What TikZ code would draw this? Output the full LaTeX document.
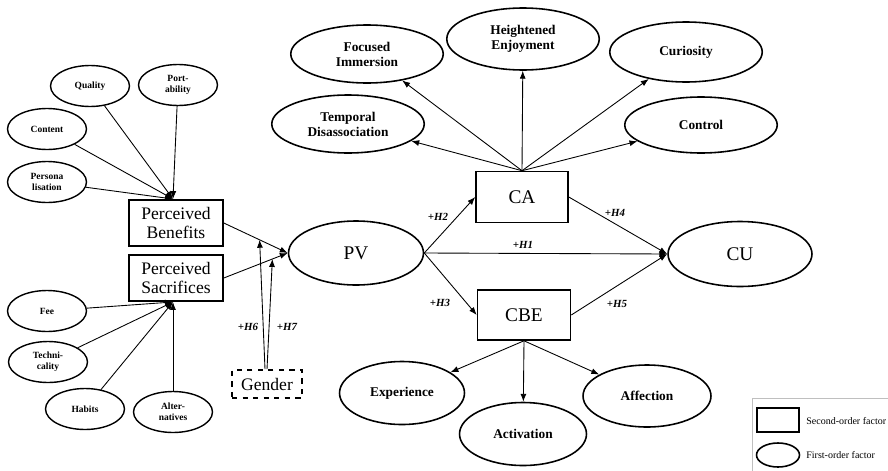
\documentclass[tikz,border=0pt]{standalone}
\usepackage{fontspec}
\setmainfont{Liberation Serif}
\usepackage{tikz}
\usetikzlibrary{arrows.meta,shapes.geometric,calc}

\begin{document}
\begin{tikzpicture}[
  x=0.02cm,y=-0.02cm,
  every node/.style={inner sep=0pt,align=center},
  fac/.style={draw,line width=0.9pt,minimum width=1.88cm,minimum height=0.91cm,font=\fontsize{10}{11}\selectfont},
  big/.style={draw,ellipse,line width=0.9pt,minimum width=2.7cm,minimum height=1.28cm,font=\fontsize{11}{12}\selectfont},
  top/.style={draw,ellipse,line width=0.9pt,minimum width=3.05cm,minimum height=1.16cm,
              font=\fontsize{7.6}{8.6}\selectfont\bfseries},
  sml/.style={draw,ellipse,line width=0.8pt,minimum width=1.58cm,minimum height=0.82cm,
              font=\fontsize{5.4}{6.2}\selectfont\bfseries},
  hyp/.style={font=\fontsize{6.2}{7}\selectfont\bfseries\itshape},
  leg/.style={font=\fontsize{5.7}{7}\selectfont},
  arr/.style={-{Latex[length=4.5pt,width=3.4pt]},line width=0.5pt}]
\useasboundingbox (0,0) rectangle (888,470);
%--- Second-order factors ---
\node[fac] (pb) at (176,223) {Perceived\\Benefits};
\node[fac] (ps) at (176,278) {Perceived\\Sacrifices};
\node[fac,minimum width=1.84cm,minimum height=1.02cm,font=\fontsize{11}{12}\selectfont] (ca)  at (522,197) {CA};
\node[fac,minimum width=1.86cm,minimum height=1.0cm,font=\fontsize{11}{12}\selectfont]  (cbe) at (524,315) {CBE};
\node[fac,dashed,minimum width=1.4cm,minimum height=0.56cm] (gen) at (267,384) {Gender};
%--- Main constructs ---
\node[big] (pv) at (356,253) {PV};
\node[big,minimum width=2.88cm,minimum height=1.3cm] (cu) at (740,254) {CU};
%--- Benefits ---
\node[sml] (qual) at (90,86)  {Quality};
\node[sml] (port) at (178,85) {Port-\\ability};
\node[sml] (cont) at (47,129) {Content};
\node[sml] (pers) at (47,182) {Persona\\lisation};
%--- Sacrifices ---
\node[sml] (fee)  at (47,311)  {Fee};
\node[sml] (tech) at (48,362)  {Techni-\\cality};
\node[sml] (hab)  at (85,409)  {Habits};
\node[sml] (alt)  at (173,412) {Alter-\\natives};
%--- CA dimensions ---
\node[top] (temp) at (348,124) {Temporal\\Disassociation};
\node[top] (foc)  at (367,54)  {Focused\\Immersion};
\node[top,minimum height=1.24cm] (hei) at (523,39) {Heightened\\Enjoyment};
\node[top,minimum height=1.2cm] (cur) at (686,52) {Curiosity};
\node[top,minimum height=1.12cm] (ctl) at (701,125) {Control};
%--- CBE dimensions ---
\node[top,minimum width=2.5cm,minimum height=1.26cm] (exp) at (402,393) {Experience};
\node[top,minimum width=2.54cm,minimum height=1.26cm] (act) at (523,434) {Activation};
\node[top,minimum width=2.56cm,minimum height=1.24cm] (aff) at (647,396) {Affection};
%--- Formative arrows ---
\coordinate (pbin) at (173,199);
\coordinate (psin) at (173,302);
\foreach \s in {qual,port,cont,pers} \draw[arr] (\s) -- (pbin);
\foreach \s in {fee,tech,hab,alt} \draw[arr] (\s) -- (psin);
\draw[arr] (pb.east) -- coordinate[pos=0.56] (m6) (pv.west);
\draw[arr] (ps.east) -- coordinate[pos=0.76] (m7) (pv.west);
\draw[arr] ($(gen.north)+(-2,0)$) -- (m6);
\draw[arr] ($(gen.north)+(0,0)$) -- (m7);
\node[hyp] (h6) at (248,327) {+H6};
\node[hyp] (h7) at (287,327) {+H7};
%--- Reflective arrows ---
\foreach \t in {temp,foc,hei,cur,ctl} \draw[arr] (ca.north) -- (\t);
\foreach \t in {exp,act,aff} \draw[arr] (cbe.south) -- (\t);
%--- Structural paths ---
\coordinate (cuin) at (cu.west);
\draw[arr] (pv.east) -- (ca.west);
\draw[arr] (pv.east) -- (cbe.west);
\draw[arr] (pv.east) -- (cuin);
\draw[arr] (ca.east) -- (cuin);
\draw[arr] (cbe.east) -- (cuin);
\node[hyp] (h1) at (523,245) {+H1};
\node[hyp] (h2) at (438,217) {+H2};
\node[hyp] (h3) at (440,303) {+H3};
\node[hyp] (h4) at (615,213) {+H4};
\node[hyp] (h5) at (617,304) {+H5};
%--- Legend ---
\node[draw=black!25,line width=0.6pt,minimum width=3cm,minimum height=1.56cm,anchor=north west] (lbox) at (752,398) {};
\node[draw,line width=0.9pt,minimum width=0.84cm,minimum height=0.48cm] (lrect) at (778,420) {};
\node[draw,ellipse,line width=0.9pt,minimum width=0.86cm,minimum height=0.48cm] (lell) at (778,455) {};
\node[leg,anchor=west] (lt1) at (806,421) {Second-order factor};
\node[leg,anchor=west] (lt2) at (806,455) {First-order factor};
\end{tikzpicture}
\end{document}
